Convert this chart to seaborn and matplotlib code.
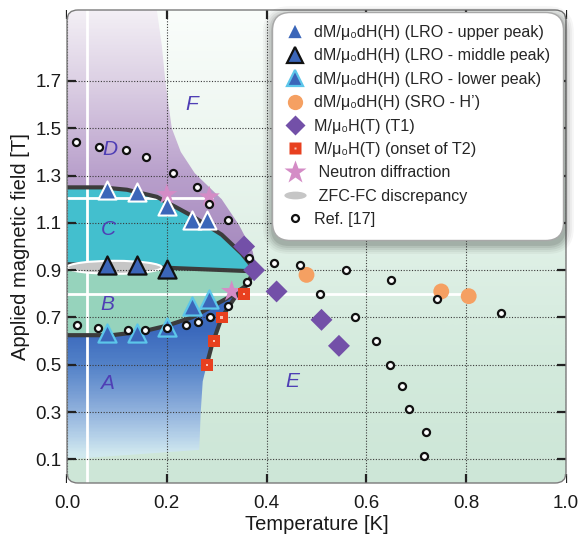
import numpy as np
import matplotlib
matplotlib.use("Agg")
import matplotlib.pyplot as plt
import seaborn as sns
from matplotlib.lines import Line2D
from matplotlib.patches import FancyBboxPatch, Polygon, Ellipse, PathPatch
from matplotlib.path import Path
from matplotlib.transforms import IdentityTransform
from matplotlib.colors import LinearSegmentedColormap

# ---------------- data ----------------
upper_T = [0.08, 0.14, 0.20, 0.25, 0.28]
upper_H = [1.24, 1.23, 1.17, 1.11, 1.11]
middle_T = [0.08, 0.14, 0.20]
middle_H = [0.92, 0.92, 0.905]
lower_T = [0.08, 0.14, 0.20, 0.25, 0.285]
lower_H = [0.635, 0.635, 0.66, 0.75, 0.78]
sro_T = [0.48, 0.75, 0.805]
sro_H = [0.88, 0.81, 0.79]
t1_T = [0.355, 0.375, 0.42, 0.51, 0.545]
t1_H = [1.00, 0.90, 0.81, 0.69, 0.58]
t2_T = [0.28, 0.295, 0.31, 0.355]
t2_H = [0.50, 0.60, 0.70, 0.80]
neutron_T = [0.20, 0.285, 0.33]
neutron_H = [1.22, 1.21, 0.81]
ref_T = [0.018, 0.064, 0.118, 0.158, 0.212, 0.26, 0.284, 0.322, 0.364, 0.414,
         0.466, 0.56, 0.65, 0.742, 0.87, 0.508, 0.578, 0.62, 0.648, 0.672,
         0.686, 0.72, 0.716, 0.02, 0.062, 0.122, 0.156, 0.20, 0.238, 0.262,
         0.286, 0.322, 0.36, 0.352]
ref_H = [1.44, 1.42, 1.41, 1.38, 1.31, 1.25, 1.18, 1.11, 0.95, 0.93,
         0.92, 0.90, 0.86, 0.78, 0.72, 0.80, 0.70, 0.60, 0.50, 0.41,
         0.315, 0.215, 0.115, 0.67, 0.655, 0.648, 0.648, 0.655, 0.668, 0.68,
         0.70, 0.75, 0.85, 0.80]
zfc_T, zfc_H, zfc_dT, zfc_dH = 0.095, 0.912, 0.19, 0.055

# phase boundaries
cu_T = [0.0, 0.07, 0.12, 0.18, 0.25, 0.31, 0.35, 0.375]
cu_H = [1.25, 1.25, 1.24, 1.21, 1.13, 1.05, 0.97, 0.905]
cm_T = [0.0, 0.20, 0.375]
cm_H = [0.925, 0.91, 0.895]
bl_T = [0.0, 0.09, 0.15, 0.20, 0.25, 0.32, 0.36, 0.375]
bl_H = [0.625, 0.625, 0.64, 0.665, 0.70, 0.78, 0.835, 0.895]
ar_T = [0.265, 0.268, 0.272, 0.28, 0.29, 0.31, 0.335, 0.36, 0.375]
ar_H = [0.14, 0.30, 0.43, 0.50, 0.58, 0.70, 0.78, 0.84, 0.895]
pr_T = [0.18, 0.19, 0.197, 0.21, 0.228, 0.256, 0.31, 0.345, 0.372, 0.38]
pr_H = [2.0, 1.85, 1.7, 1.5, 1.4, 1.31, 1.2, 1.09, 0.98, 0.9]
a_bottom_T = [0.0]
a_bottom_H = [0.10]

white_v_T = 0.04
white_h1_H, white_h1_T = 1.205, 0.29
white_h2_H, white_h2_T = 0.80, 0.805

phase_labels = ["F", "D", "C", "B", "A", "E"]
phase_T = [0.25, 0.086, 0.082, 0.08, 0.08, 0.452]
phase_H = [1.60, 1.41, 1.07, 0.755, 0.42, 0.43]

xticks = [0.0, 0.2, 0.4, 0.6, 0.8, 1.0]
yticks = [0.1, 0.3, 0.5, 0.7, 0.9, 1.1, 1.3, 1.5, 1.7]

# ---------------- style ----------------
sns.set_theme(style="white")
plt.rcParams['font.family'] = ['Liberation Sans', 'DejaVu Sans']

fig = plt.figure(figsize=(5.8, 5.35), dpi=100)
ax = fig.add_axes([67 / 580, 52 / 535, 499 / 580, 473 / 535])
ax.set_xlim(0, 1.0)
ax.set_ylim(0, 2.0)
ax.patch.set_visible(False)
for s in ax.spines.values():
    s.set_visible(False)

frame_kw = dict(boxstyle="round,pad=0,rounding_size=0.022", transform=ax.transAxes)
bg_clip = FancyBboxPatch((0, 0), 1, 1, fc='none', ec='none', **frame_kw)
ax.add_patch(bg_clip)

def vgrad(stops, clip, zorder):
    cmap = LinearSegmentedColormap.from_list("g", [(p / 2.0, c) for p, c in stops])
    arr = np.linspace(0, 2, 400)[:, None]
    im = ax.imshow(arr, cmap=cmap, vmin=0, vmax=2, extent=[0, 1, 0, 2],
                   origin='lower', aspect='auto', interpolation='bilinear', zorder=zorder)
    im.set_clip_path(clip)
    return im

# background
vgrad([(0, '#cde6d7'), (0.5, '#d3eadc'), (1.0, '#dff0e6'), (1.5, '#eef7f1'), (2.0, '#fafdfb')], bg_clip, 0.1)

def poly(pts, **kw):
    p = Polygon(pts, closed=True, transform=ax.transData, fc='none', ec='none', **kw)
    ax.add_patch(p)
    return p

purple_pts = [(0.0, 2.0)] + list(zip(pr_T, pr_H)) + list(zip(cu_T, cu_H))[::-1]
vgrad([(0, '#a084bc'), (1.0, '#a88cc0'), (1.3, '#b89fcb'), (1.5, '#cbb8d8'),
       (1.7, '#dcd0e4'), (2.0, '#f3eff5')], poly(purple_pts), 0.2)

c_pts = list(zip(cu_T, cu_H)) + list(zip(cm_T, cm_H))[::-1]
poly(c_pts).set(fc='#43bfce', zorder=0.3)

b_pts = list(zip(cm_T, cm_H)) + list(zip(bl_T, bl_H))[::-1]
poly(b_pts).set(fc='#96d3bc', zorder=0.3)

a_pts = list(zip(bl_T, bl_H)) + list(zip(ar_T, ar_H))[::-1] + list(zip(a_bottom_T, a_bottom_H))
vgrad([(0.0, '#d3eaee'), (0.12, '#d0e8ef'), (0.2, '#b3cfe8'), (0.35, '#80a4d7'),
       (0.5, '#5281c8'), (0.65, '#3a68bc'), (2.0, '#3a68bc')], poly(a_pts), 0.3)

# grid
ax.set_xticks(xticks)
ax.set_yticks(yticks)
ax.grid(True, color='#3a3a3a', linestyle=(0, (1, 1.5)), linewidth=0.8, zorder=0.6)
ax.set_axisbelow(False)
for gl in ax.get_xgridlines() + ax.get_ygridlines():
    gl.set_zorder(0.6)

# white guide lines
ax.axvline(white_v_T, color='white', lw=2, zorder=0.8)
ax.plot([0, white_h1_T], [white_h1_H] * 2, color='white', lw=2, zorder=0.8)
ax.plot([0, white_h2_T], [white_h2_H] * 2, color='white', lw=2, zorder=0.8)

# boundary lines
lc = '#3c3c3c'
sns.lineplot(x=cu_T, y=cu_H, sort=False, color=lc, lw=3, ax=ax, zorder=1)
sns.lineplot(x=cm_T, y=cm_H, sort=False, color=lc, lw=3, ax=ax, zorder=1)
sns.lineplot(x=bl_T, y=bl_H, sort=False, color=lc, lw=3, ax=ax, zorder=1)
sns.lineplot(x=ar_T[3:], y=ar_H[3:], sort=False, color=lc, lw=3, ax=ax, zorder=1)

# ZFC-FC ellipse
ax.add_patch(Ellipse((zfc_T, zfc_H), zfc_dT, zfc_dH, fc='#c6c6c6', ec='white', lw=1.5, zorder=1.2))

# markers
blue = '#3b66b9'
sns.scatterplot(x=neutron_T, y=neutron_H, marker='*', s=260, color='#d48cc6', edgecolor='none', ax=ax, zorder=3)
sns.scatterplot(x=upper_T, y=upper_H, marker='^', s=170, color=blue, edgecolor='white', linewidth=1.5, ax=ax, zorder=3.2)
sns.scatterplot(x=middle_T, y=middle_H, marker='^', s=170, color=blue, edgecolor='#111111', linewidth=1.6, ax=ax, zorder=3.2)
sns.scatterplot(x=lower_T, y=lower_H, marker='^', s=170, color=blue, edgecolor='#5cc6ea', linewidth=1.6, ax=ax, zorder=3.2)
sns.scatterplot(x=sro_T, y=sro_H, marker='o', s=130, color='#f5a062', edgecolor='none', ax=ax, zorder=3)
sns.scatterplot(x=t1_T, y=t1_H, marker='D', s=125, color='#7350a8', edgecolor='none', ax=ax, zorder=3)
sns.scatterplot(x=ref_T, y=ref_H, marker='o', s=26, color='white', edgecolor='#111111', linewidth=1.6, ax=ax, zorder=3.5)
sns.scatterplot(x=t2_T, y=t2_H, marker='s', s=70, color='#e8401f', edgecolor='none', ax=ax, zorder=3.6)
sns.scatterplot(x=t2_T, y=t2_H, marker='s', s=3, color='#f9c3b5', edgecolor='none', ax=ax, zorder=3.7)

# phase labels
for lab, t, h in zip(phase_labels, phase_T, phase_H):
    ax.text(t, h, lab, color='#4f3fb5', fontsize=15, fontstyle='italic', ha='center', va='center', zorder=4)

# white mask on the square corners outside the rounded frame + frame line
inner = bg_clip.get_path().to_polygons()[0]
def area(p):
    x, y = p[:, 0], p[:, 1]
    return 0.5 * np.sum(x * np.roll(y, -1) - np.roll(x, -1) * y)
if area(inner) > 0:
    inner = inner[::-1]
outer = np.array([[0, 0], [1, 0], [1, 1], [0, 1]], dtype=float)
verts = np.vstack([outer, outer[:1], inner, inner[:1]])
codes = ([Path.MOVETO] + [Path.LINETO] * 3 + [Path.CLOSEPOLY] +
         [Path.MOVETO] + [Path.LINETO] * (len(inner) - 1) + [Path.CLOSEPOLY])
ax.add_patch(PathPatch(Path(verts, codes), fc='white', ec='none', transform=ax.transAxes,
                       zorder=4.5, clip_on=False))
ax.add_patch(FancyBboxPatch((0, 0), 1, 1, fc='none', ec='#7a7a7a', lw=1.0, zorder=4.6,
                            clip_on=False, **frame_kw))

# ticks
ax.tick_params(axis='both', which='major', direction='in', length=6.5, width=1.6,
               color='#222222', labelsize=13.5, labelcolor='#1a1a1a',
               top=True, right=True, bottom=True, left=True, pad=4)
ax.tick_params(axis='x', pad=9)
ax.set_xticklabels([f"{v:.1f}" for v in xticks])
ax.set_yticklabels([f"{v:.1f}" for v in yticks])
ax.set_xlabel("Temperature [K]", fontsize=14.5, color='#1a1a1a', labelpad=2)
ax.set_ylabel("Applied magnetic field [T]", fontsize=14.5, color='#1a1a1a', labelpad=4)

# legend
circ = Path.unit_circle()
ell_marker = Path(circ.vertices * np.array([1.0, 0.35]), circ.codes)
handles = [
    Line2D([], [], ls='none', marker='^', ms=12, mfc=blue, mec='white', mew=1.2),
    Line2D([], [], ls='none', marker='^', ms=12, mfc=blue, mec='#111111', mew=1.6),
    Line2D([], [], ls='none', marker='^', ms=12, mfc=blue, mec='#5cc6ea', mew=1.6),
    Line2D([], [], ls='none', marker='o', ms=11, mfc='#f5a062', mec='none'),
    Line2D([], [], ls='none', marker='D', ms=10.5, mfc='#7350a8', mec='none'),
    (Line2D([], [], ls='none', marker='s', ms=8, mfc='#e8401f', mec='none'),
     Line2D([], [], ls='none', marker='s', ms=1.6, mfc='#f9c3b5', mec='none')),
    Line2D([], [], ls='none', marker='*', ms=17, mfc='#d48cc6', mec='none'),
    Line2D([], [], ls='none', marker=ell_marker, ms=16, mfc='#c6c6c6', mec='none'),
    Line2D([], [], ls='none', marker='o', ms=5, mfc='white', mec='#111111', mew=1.6),
]
labels = ["dM/μ₀dH(H) (LRO - upper peak)", "dM/μ₀dH(H) (LRO - middle peak)",
          "dM/μ₀dH(H) (LRO - lower peak)", "dM/μ₀dH(H) (SRO - H’)",
          "M/μ₀H(T) (T1)", "M/μ₀H(T) (onset of T2)", " Neutron diffraction",
          " ZFC-FC discrepancy", "Ref. [17]"]
leg = ax.legend(handles, labels, loc='upper right', bbox_to_anchor=(558 / 580, 1 - 17 / 535),
                bbox_transform=fig.transFigure, fontsize=11.6, frameon=True, fancybox=True,
                handlelength=1.3, handletextpad=0.5, labelspacing=0.52, borderpad=0.5,
                borderaxespad=0, facecolor='white', edgecolor='#a8a8a8', framealpha=1,
                shadow=False)
leg.get_frame().set_boxstyle('round', pad=0.3, rounding_size=1.1)
leg.get_frame().set_linewidth(1.0)
leg.set_zorder(6)

# soft blurred shadow behind the legend
fig.canvas.draw()
bb = leg.get_frame().get_window_extent()
for pad, alpha in [(10, 0.035), (8, 0.045), (6, 0.055), (4, 0.07), (2, 0.09)]:
    sh = FancyBboxPatch((bb.x0 + 1, bb.y0 - 4), bb.width, bb.height,
                        boxstyle=f"round,pad={pad},rounding_size={16 + pad}",
                        transform=IdentityTransform(), fc='black', ec='none',
                        alpha=alpha, zorder=5.5, clip_on=False)
    ax.add_artist(sh)

fig.savefig("out.png", dpi=100, facecolor='white')
